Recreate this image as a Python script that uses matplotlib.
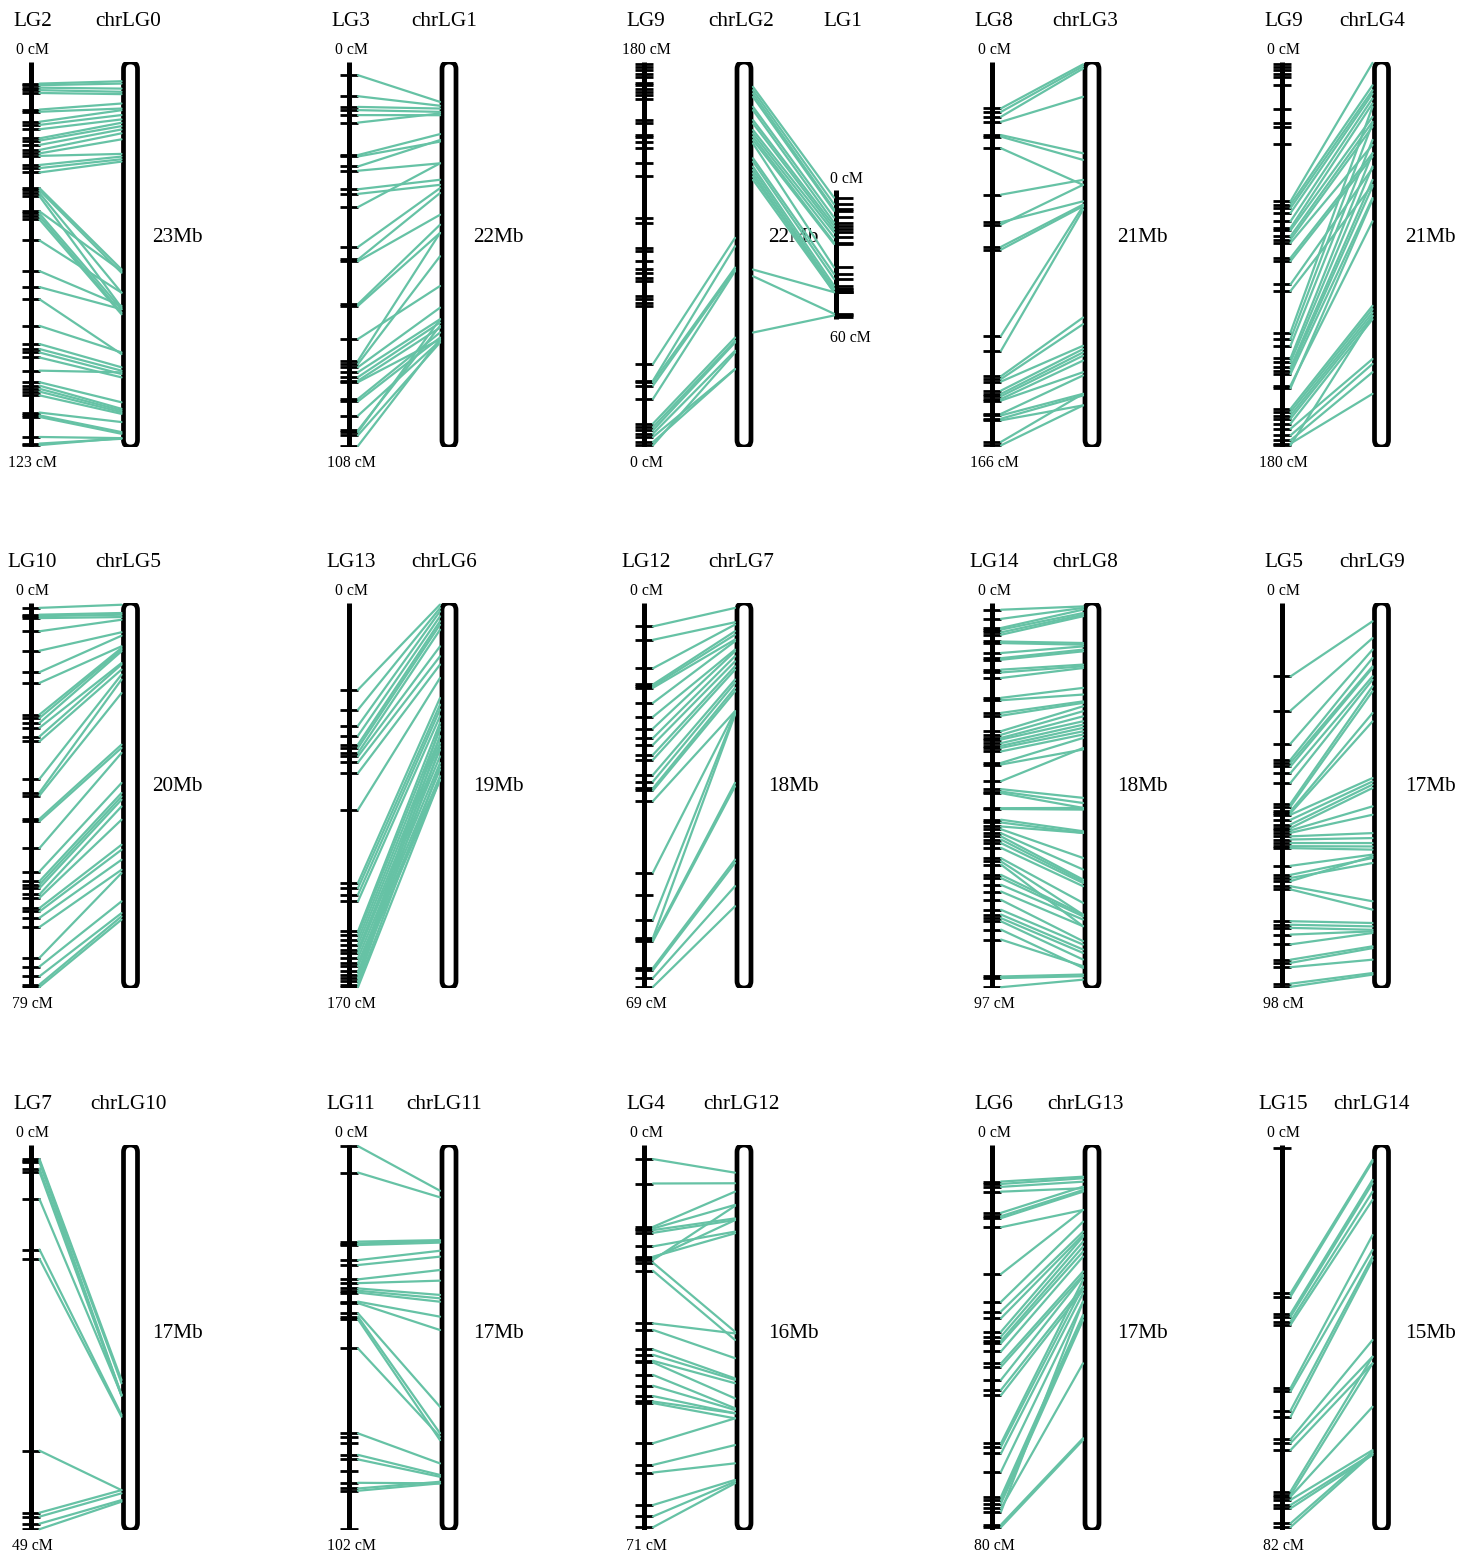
import matplotlib
matplotlib.use("Agg")
import matplotlib.pyplot as plt
from matplotlib.patches import FancyBboxPatch, ConnectionPatch

plt.rcParams['font.family'] = ['Liberation Serif', 'DejaVu Serif']

# ---------------------------------------------------------------------------
# Linkage maps vs. chromosomes: names and lengths
# ---------------------------------------------------------------------------
map_names = ["LG2", "LG3", "LG9", "LG8", "LG9",
             "LG10", "LG13", "LG12", "LG14", "LG5",
             "LG7", "LG11", "LG4", "LG6", "LG15"]
chrom_names = ["chrLG0", "chrLG1", "chrLG2", "chrLG3", "chrLG4",
               "chrLG5", "chrLG6", "chrLG7", "chrLG8", "chrLG9",
               "chrLG10", "chrLG11", "chrLG12", "chrLG13", "chrLG14"]
map_cm = [123, 108, 180, 166, 180, 79, 170, 69, 97, 98, 49, 102, 71, 80, 82]
chrom_mb = [23, 22, 22, 21, 21, 20, 19, 18, 18, 17, 17, 17, 16, 17, 15]

# second linkage group on chrLG2
lg1_length = 60

# ---------------------------------------------------------------------------
# Anchored markers: genetic position (cM) and physical position (Mb)
# ---------------------------------------------------------------------------
cm_chrLG0 = [6.9, 7.4, 8.2, 9.0, 9.9, 15.2, 15.9, 19.1, 20.1, 21.5, 24.4, 25.1, 26.5, 28.1, 29.2,
             30.0, 32.9, 33.9, 35.3, 40.3, 41.0, 41.9, 42.9, 47.7, 48.4, 49.3, 50.3, 57.0, 66.8,
             71.9, 75.8, 84.3, 90.1, 91.7, 92.8, 94.4, 98.6, 102.3, 103.4, 104.4, 105.3, 106.5,
             112.0, 112.9, 113.4, 119.8, 121.9, 122.4]
mb_chrLG0 = [1.15, 1.29, 1.59, 1.78, 1.92, 2.48, 2.78, 2.88, 3.17, 3.43, 3.63, 3.83, 4.03, 4.26, 4.62,
             5.49, 5.65, 5.81, 5.95, 12.39, 12.59, 13.78, 14.67, 12.49, 14.77, 14.97, 15.07, 13.78, 14.57,
             14.77, 17.45, 17.35, 18.24, 18.44, 18.64, 18.84, 18.54, 20.33, 20.72, 20.82, 20.92, 21.02,
             21.51, 22.11, 22.21, 22.47, 22.51, 22.47]

cm_chrLG1 = [3.7, 9.6, 12.6, 13.5, 14.9, 17.0, 26.1, 26.5, 29.3, 30.5, 35.7, 37.0, 40.7, 51.9, 55.4,
             55.9, 67.9, 68.4, 77.7, 83.8, 84.7, 85.6, 87.0, 88.4, 89.4, 89.8, 94.5, 95.2, 99.2,
             103.3, 103.8, 104.7, 107.7]
mb_chrLG1 = [2.28, 2.50, 2.66, 2.85, 3.04, 2.94, 4.12, 4.55, 4.46, 5.79, 6.73, 7.02, 5.79, 7.21, 7.49,
             8.73, 9.30, 9.77, 12.80, 9.77, 11.10, 14.04, 14.70, 14.89, 15.18, 15.84, 15.46, 15.75, 15.94,
             15.08, 14.70, 16.03, 15.84]

cm_chrLG2 = [38.8, 31.0, 30.3, 28.7, 22.5, 10.9, 9.3, 7.8, 6.2, 4.7, 2.3, 0.8]
mb_chrLG2 = [10.05, 10.53, 11.75, 11.86, 11.95, 15.75, 15.94, 16.03, 16.50, 17.55, 17.55, 16.60]
unanchored_chrLG2 = [179.2, 177.7, 176.1, 174.6, 173.0, 170.2, 169.1, 167.6, 166.0, 164.5, 162.9,
                     152.8, 151.3, 145.8, 145.1, 142.8, 139.7, 133.0, 126.5, 107.1, 104.7, 93.1,
                     91.5, 86.9, 83.0, 81.5, 79.1, 77.6, 70.6, 69.1, 67.5, 65.9]

cm_lg1 = [3.4, 6.5, 8.8, 9.6, 12.7, 15.1, 16.6, 18.2, 19.7, 22.0, 24.4, 25.1, 36.0, 39.1, 41.4,
          44.5, 46.1, 47.6, 46.1, 47.6, 47.6, 57.7, 58.5]
mb_lg1 = [1.42, 1.61, 1.80, 1.99, 2.56, 2.75, 3.32, 3.51, 3.89, 4.08, 4.27, 4.46, 4.65, 5.50, 5.69,
          5.98, 6.17, 6.36, 6.54, 6.73, 11.86, 12.24, 15.46]
unanchored_lg1 = [59.3]

cm_chrLG3 = [20.0, 21.5, 23.6, 25.8, 31.5, 32.2, 37.2, 57.2, 69.1, 70.1, 79.7, 80.9, 118.1, 124.5,
             135.5, 136.7, 137.8, 141.7, 143.1, 144.1, 145.3, 146.0, 151.7, 152.4, 153.8, 154.5,
             163.8, 165.3]
mb_chrLG3 = [0.13, 0.24, 0.36, 1.90, 4.98, 5.34, 6.70, 6.43, 7.60, 6.70, 7.78, 7.87, 7.87, 8.05,
             13.94, 14.30, 15.48, 15.66, 15.84, 16.02, 16.29, 16.92, 17.10, 18.10, 18.19, 18.73,
             18.10, 18.73]

cm_chrLG4 = [65.2, 66.7, 68.3, 70.6, 74.5, 77.6, 78.7, 81.5, 83.0, 84.6, 91.6, 93.1, 104.0, 107.1,
             126.5, 129.6, 132.7, 138.6, 140.4, 142.8, 144.3, 145.9, 151.3, 152.5,
             162.2, 163.7, 165.3, 166.8, 169.1, 171.5, 174.6, 176.9, 178.4, 179.2]
mb_chrLG4 = [0.05, 1.27, 1.54, 1.72, 1.99, 2.26, 2.99, 3.26, 3.53, 4.52, 4.98, 5.16, 5.79, 6.70,
             2.44, 3.35, 4.25, 4.98, 5.70, 6.43, 6.79, 7.42, 8.69, 7.51,
             13.30, 13.48, 13.67, 13.85, 14.03, 16.20, 16.47, 16.92, 18.10, 13.85]
unanchored_chrLG4 = [0.8, 2.3, 3.9, 5.4, 7.0, 10.9, 22.2, 28.7, 30.6, 38.3]

cm_chrLG5 = [1.0, 2.4, 2.7, 3.1, 5.8, 9.8, 14.2, 16.4, 22.9, 23.6, 24.6, 25.6, 27.4, 28.4, 36.1,
             38.9, 39.5, 44.3, 44.8, 50.3, 55.1, 57.1, 57.8, 58.5, 59.8, 60.5, 62.6, 63.3, 64.6,
             66.5, 72.8, 74.6, 76.6, 78.3, 78.8]
mb_chrLG5 = [0.09, 0.52, 0.61, 0.73, 0.87, 1.52, 1.70, 2.25, 2.34, 2.42, 2.51, 3.12, 3.20, 3.46, 3.72,
             3.98, 4.68, 7.36, 7.53, 7.79, 9.35, 9.87, 10.05, 10.22, 10.57, 11.26, 12.56, 12.82, 13.34,
             13.86, 14.03, 15.50, 16.11, 16.28, 16.45]

cm_chrLG6 = [38.3, 47.1, 54.2, 58.6, 62.5, 64.0, 66.2, 67.7, 70.4, 75.1, 91.3, 123.6, 125.9, 128.8,
             131.7, 145.0, 146.5, 148.7, 150.9, 153.1, 154.6, 156.8, 159.0, 160.4, 162.7, 164.1,
             165.6, 167.1, 168.5, 169.6]
mb_chrLG6 = [0.08, 0.25, 0.41, 0.66, 0.90, 1.07, 1.32, 2.14, 2.63, 3.04, 3.70, 4.69, 5.02, 5.26,
             5.59, 5.92, 6.25, 6.58, 6.91, 7.24, 7.57, 7.90, 8.22, 8.55, 8.72, 6.09,
             6.58, 7.07, 8.06, 8.72]

cm_chrLG7 = [4.2, 6.6, 11.7, 14.6, 14.9, 15.2, 17.9, 20.4, 22.5, 24.2, 25.4, 27.2, 28.1, 30.8, 32.0,
             33.2, 33.6, 35.5, 48.3, 56.8, 60.0, 60.3, 60.6, 65.4, 65.8, 67.2, 68.8]
mb_chrLG7 = [0.23, 0.90, 1.01, 1.32, 1.48, 1.71, 1.79, 2.18, 2.26, 2.49, 2.73, 2.96, 3.12, 3.58, 3.74,
             3.97, 4.13, 5.06, 5.06, 5.14, 5.22, 8.41, 8.57, 12.00, 12.15, 13.24, 14.18]
unanchored_chrLG7 = [52.3]

cm_chrLG8 = [1.7, 4.0, 6.3, 6.7, 7.4, 8.0, 9.7, 10.1, 12.6, 13.9, 14.3, 16.8, 17.5, 18.9, 23.9,
             24.5, 27.7, 28.4, 32.3, 33.2, 34.0, 34.4, 35.3, 36.0, 36.5, 37.4, 40.3, 40.7, 44.9,
             46.9, 47.5, 47.9, 51.7, 51.9, 54.6, 55.3, 56.3, 57.0, 58.0, 58.8, 59.6, 60.5, 61.7,
             64.3, 65.1, 65.9, 68.5, 69.3, 71.0, 72.7, 74.8, 77.3, 78.5, 79.4, 80.2, 82.3, 84.8,
             94.1, 94.5, 96.8]
mb_chrLG8 = [0.16, 0.23, 0.31, 0.47, 0.55, 0.62, 1.87, 1.95, 2.03, 2.18, 2.26, 2.88, 2.96, 3.04, 3.97,
             4.28, 4.60, 4.67, 4.83, 5.06, 5.30, 5.53, 5.69, 5.84, 6.00, 6.15, 6.31, 6.85, 6.78,
             9.11, 9.35, 9.58, 9.58, 9.66, 10.67, 10.75, 10.75, 11.92, 12.46, 12.93, 13.01, 13.09, 13.24,
             14.02, 14.57, 15.11, 14.57, 14.65, 14.80, 15.11, 15.81, 15.97, 16.20, 16.36, 16.67, 17.06,
             16.98, 17.37, 17.45, 17.61]

cm_chrLG9 = [18.7, 27.4, 35.8, 39.9, 40.7, 41.6, 43.3, 45.8, 51.1, 51.8, 53.0, 53.5, 53.9, 55.2, 56.4,
             57.3, 57.9, 58.5, 59.4, 60.2, 61.1, 61.9, 62.4, 66.9, 69.2, 70.0, 70.8, 72.1, 72.9,
             81.0, 81.9, 82.7, 84.4, 86.9, 90.8, 91.6, 92.7, 96.9, 97.7]
mb_chrLG9 = [0.81, 1.55, 2.06, 2.43, 2.80, 2.87, 3.24, 3.39, 3.68, 3.90, 4.86, 5.23, 7.73, 7.88, 8.02,
             8.17, 8.98, 9.35, 10.16, 10.38, 10.60, 10.75, 10.89, 11.11, 11.26, 11.48, 11.19, 13.17, 13.54,
             14.13, 14.28, 14.43, 14.50, 14.57, 15.16, 15.24, 15.75, 16.34, 16.41]

cm_chrLG10 = [1.8, 2.0, 2.2, 3.0, 3.4, 6.9, 13.3, 14.5, 38.9, 46.8, 47.3, 48.2, 48.9]
mb_chrLG10 = [10.38, 10.52, 11.04, 11.04, 11.08, 11.04, 11.92, 12.00, 15.24, 15.24, 15.38, 15.68, 15.75]

cm_chrLG11 = [0.3, 7.3, 25.6, 26.1, 26.5, 30.5, 31.8, 35.6, 36.6, 38.0, 38.6, 39.1, 41.5, 41.9, 44.6,
              45.5, 46.2, 53.9, 76.4, 82.1, 83.3, 89.5, 91.0, 91.6]
mb_chrLG11 = [2.02, 2.31, 4.20, 4.24, 4.31, 4.67, 4.93, 5.52, 5.99, 6.62, 6.77, 6.92, 7.58, 8.17, 11.56,
              12.73, 13.03, 12.88, 14.06, 14.57, 14.65, 14.94, 14.87, 14.94]
unanchored_chrLG11 = [77.3, 78.9, 86.5, 101.8]

cm_chrLG12 = [2.6, 7.1, 15.1, 15.4, 15.7, 16.2, 18.7, 20.6, 20.9, 21.2, 21.7, 23.2, 32.9, 34.1, 37.7,
              38.7, 39.8, 40.1, 42.4, 44.4, 46.3, 47.3, 47.6, 55.0, 59.0, 60.4, 66.4, 68.5, 70.5]
mb_chrLG12 = [1.15, 1.59, 1.94, 2.49, 3.05, 3.12, 3.60, 3.67, 3.12, 2.53, 7.76, 8.10, 7.83, 8.86, 9.70,
              9.76, 9.90, 10.53, 10.94, 11.01, 11.15, 11.15, 11.36, 11.36, 12.47, 13.23, 13.92, 13.99, 14.06]

cm_chrLG13 = [7.6, 8.1, 8.7, 9.7, 14.1, 14.8, 15.2, 17.1, 26.8, 32.6, 34.6, 36.0, 38.8, 39.8, 40.7,
              41.2, 42.9, 45.4, 46.1, 48.8, 50.9, 52.0, 62.0, 62.7, 64.1, 67.9, 73.1, 73.8, 74.5,
              75.5, 76.2, 78.9, 79.4]
mb_chrLG13 = [1.40, 1.47, 1.62, 1.91, 1.84, 1.99, 2.06, 2.87, 2.87, 3.39, 3.83, 3.97, 4.05, 4.27, 4.49,
              4.71, 4.93, 5.59, 5.74, 5.81, 6.26, 6.40, 5.96, 6.26, 6.55, 6.92, 7.51, 7.58, 7.73,
              9.64, 6.92, 12.95, 13.03]

cm_chrLG14 = [31.6, 32.3, 36.0, 36.6, 37.6, 38.3, 51.8, 52.5, 56.6, 57.9, 62.7, 63.5, 65.0, 73.8,
              74.6, 74.9, 75.6, 76.7, 77.4, 80.6, 81.4]
mb_chrLG14 = [0.58, 0.65, 1.36, 1.49, 1.82, 2.14, 3.51, 4.09, 4.35, 4.48, 7.60, 8.25, 8.51, 8.25,
              8.51, 10.20, 11.89, 12.02, 12.08, 11.95, 12.02]
unanchored_chrLG14 = [0.7]

anchored_cm = [cm_chrLG0, cm_chrLG1, cm_chrLG2, cm_chrLG3, cm_chrLG4, cm_chrLG5, cm_chrLG6,
               cm_chrLG7, cm_chrLG8, cm_chrLG9, cm_chrLG10, cm_chrLG11, cm_chrLG12, cm_chrLG13,
               cm_chrLG14]
anchored_mb = [mb_chrLG0, mb_chrLG1, mb_chrLG2, mb_chrLG3, mb_chrLG4, mb_chrLG5, mb_chrLG6,
               mb_chrLG7, mb_chrLG8, mb_chrLG9, mb_chrLG10, mb_chrLG11, mb_chrLG12, mb_chrLG13,
               mb_chrLG14]
unanchored = {2: unanchored_chrLG2, 4: unanchored_chrLG4, 7: unanchored_chrLG7,
              11: unanchored_chrLG11, 14: unanchored_chrLG14}

# ---------------------------------------------------------------------------
# Layout (pixels)
# ---------------------------------------------------------------------------
W, H = 1478, 1560
COL_X = [30.5, 349, 644, 992, 1281.5]        # x of each linkage map
CHROM_DX = 100                               # chromosome centre relative to map
CHROM_NAME_X = [128, 444, 741, 1085, 1372]
SIZE_LABEL_X = [177, 498, 793, 1142, 1430]
ROW_TOP = [62, 603, 1145]
SIZE_LABEL_Y = [242, 791, 1338]
SPAN = 385
LINK = '#66c2a5'

fig = plt.figure(figsize=(W / 100, H / 100), dpi=100)
canvas = fig.add_axes([0, 0, 1, 1], zorder=-1)
canvas.set_xlim(0, W)
canvas.set_ylim(H, 0)
canvas.set_axis_off()


def panel_axes(col, row, ylim):
    x0, top = COL_X[col], ROW_TOP[row]
    ax = fig.add_axes([(x0 - 40) / W, 1 - (top + SPAN) / H, 280 / W, SPAN / H])
    ax.set_xlim(-40, 240)
    ax.set_ylim(*ylim)
    ax.set_axis_off()
    return ax


def draw_map(ax, length, markers, x=0, tick=(-9, 9)):
    ax.vlines(x, 0, length, colors='black', linewidth=3.6, capstyle='butt')
    ax.hlines(markers, x + tick[0], x + tick[1], colors='black', linewidth=2.0, capstyle='butt')


def draw_chrom(ax, length, xc):
    box = FancyBboxPatch((xc - 7, 0), 14, length,
                         boxstyle="round,pad=0,rounding_size=7",
                         mutation_aspect=length / SPAN,
                         facecolor='white', edgecolor='black', linewidth=3.4, zorder=3)
    ax.add_patch(box)


def connect(ax_a, xa, ya, ax_b, xb, yb):
    con = ConnectionPatch(xyA=(xa, ya), coordsA="data", axesA=ax_a,
                          xyB=(xb, yb), coordsB="data", axesB=ax_b,
                          color=LINK, linewidth=1.6)
    fig.add_artist(con)


TITLE_FS = 15.3
SMALL_FS = 11.3

for i in range(15):
    row, col = divmod(i, 5)
    L, C = map_cm[i], chrom_mb[i]
    cms, mbs = anchored_cm[i], anchored_mb[i]
    extra = unanchored.get(i, [])
    top = ROW_TOP[row]
    x0 = COL_X[col]
    flipped = (i == 2)   # LG9 on chrLG2 is drawn with 180 cM at the top

    ax_map = panel_axes(col, row, (0, L) if flipped else (L, 0))
    ax_chr = panel_axes(col, row, (C, 0))

    draw_map(ax_map, L, list(cms) + list(extra))
    draw_chrom(ax_chr, C, CHROM_DX)
    for c, m in zip(cms, mbs, strict=True):
        connect(ax_map, 9, c, ax_chr, CHROM_DX - 9, m)

    # labels
    canvas.text(x0 + 2, top - 36, map_names[i], ha='center', va='baseline', fontsize=TITLE_FS)
    canvas.text(CHROM_NAME_X[col], top - 36, chrom_names[i], ha='center', va='baseline',
                fontsize=TITLE_FS)
    canvas.text(SIZE_LABEL_X[col], SIZE_LABEL_Y[row], f"{C}Mb", ha='center', va='baseline',
                fontsize=TITLE_FS)
    top_lab, bot_lab = (f"{L} cM", "0 cM") if flipped else ("0 cM", f"{L} cM")
    canvas.text(x0 + 2, top - 8, top_lab, ha='center', va='baseline', fontsize=SMALL_FS)
    canvas.text(x0 + 2, top + SPAN + 20, bot_lab, ha='center', va='baseline', fontsize=SMALL_FS)

    if flipped:
        # LG1 sits to the right of chrLG2 on the same cM scale, centred vertically
        pad = (L - lg1_length) / 2
        ax_lg1 = panel_axes(col, row, (L - pad, -pad))
        lg1_x = 192
        draw_map(ax_lg1, lg1_length, cm_lg1 + unanchored_lg1, x=lg1_x, tick=(0, 17))
        for c, m in zip(cm_lg1, mb_lg1, strict=True):
            connect(ax_chr, CHROM_DX + 9, m, ax_lg1, lg1_x - 2, c)
        lg1_top = top + SPAN * pad / L
        lg1_bot = top + SPAN * (pad + lg1_length) / L
        canvas.text(x0 + lg1_x + 7, top - 36, "LG1", ha='center', va='baseline', fontsize=TITLE_FS)
        canvas.text(x0 + lg1_x + 10, lg1_top - 7, "0 cM", ha='center', va='baseline',
                    fontsize=SMALL_FS)
        canvas.text(x0 + lg1_x + 14, lg1_bot + 23, f"{lg1_length} cM", ha='center',
                    va='baseline', fontsize=SMALL_FS)

fig.savefig("out.png", dpi=100)
